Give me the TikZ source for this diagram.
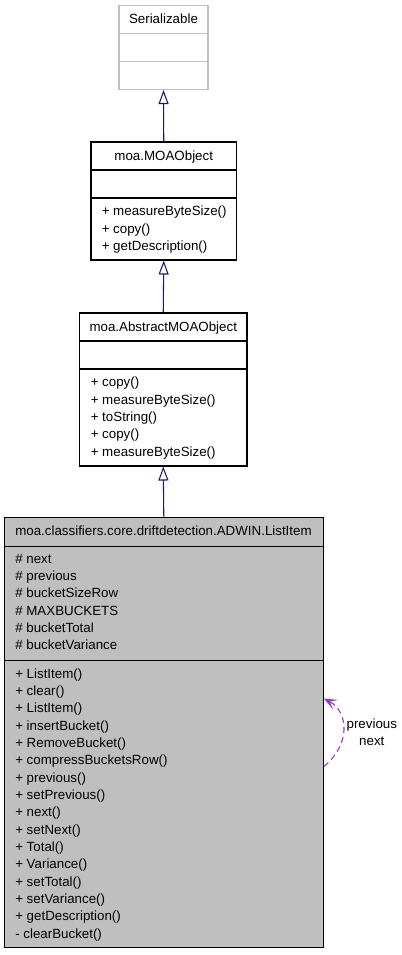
\documentclass[tikz,border=0pt]{standalone}
\usepackage{fontspec}
\setmainfont{Liberation Sans}
\usetikzlibrary{arrows.meta}
\definecolor{edgeblue}{RGB}{25,25,112}
\definecolor{loopcol}{RGB}{154,50,205}
\definecolor{boxgrey}{RGB}{191,191,191}
\tikzset{
  classbox/.style={draw=black, line width=0.8pt, fill=white, inner sep=0pt},
  extbox/.style={draw=boxgrey, line width=0.8pt, fill=white, inner sep=0pt},
  curbox/.style={draw=black, line width=0.8pt, fill=boxgrey, inner sep=0pt},
  divider/.style={line width=0.8pt},
  member/.style={anchor=west, inner sep=0pt, yshift=-1.1pt, font=\fontsize{10pt}{13pt}\selectfont, text height=7.2pt, text depth=2.2pt},
  title/.style={inner sep=0pt, yshift=-1.1pt, font=\fontsize{10pt}{13pt}\selectfont, text height=7.2pt, text depth=2.2pt},
  inherit/.style={draw=edgeblue, line width=0.8pt, -{Triangle[open, length=10.5pt, width=7.5pt]}},
  usage/.style={draw=loopcol, line width=0.8pt, dash pattern=on 4.5pt off 3pt, -{Stealth[length=10pt, width=8pt, inset=5pt]}},
  looplabel/.style={align=center, inner sep=0pt, font=\fontsize{10pt}{13pt}\selectfont}
}
\begin{document}
\begin{tikzpicture}[x=0.75pt, y=-0.75pt]
\useasboundingbox (0,0) rectangle (401,955);
% Serializable
\node[extbox, minimum width=66.75pt, minimum height=63pt] (ser) at (163.5,47.5) {};
\draw[divider, boxgrey] (ser.west |- 0,33.5) -- (ser.east |- 0,33.5);
\draw[divider, boxgrey] (ser.west |- 0,61.5) -- (ser.east |- 0,61.5);
\node[title] (sert) at (163.5,18.5) {Serializable};
% MOAObject
\node[classbox, minimum width=109.1pt, minimum height=88.5pt] (moa) at (163.75,201) {};
\draw[divider] (moa.west |- 0,170) -- (moa.east |- 0,170);
\draw[divider] (moa.west |- 0,198) -- (moa.east |- 0,198);
\node[title] (moat) at (163.75,155.5) {moa.MOAObject};
\foreach \t [count=\i] in {+ measureByteSize(), + copy(), + getDescription()}
  \node[member] (moam\i) at (101.5,{211+17.33*(\i-1)}) {\t};
% AbstractMOAObject
\node[classbox, minimum width=125.6pt, minimum height=114.75pt] (abs) at (163.25,389.5) {};
\draw[divider] (abs.west |- 0,341) -- (abs.east |- 0,341);
\draw[divider] (abs.west |- 0,369) -- (abs.east |- 0,369);
\node[title] (abst) at (163.25,326.5) {moa.AbstractMOAObject};
\foreach \t [count=\i] in {+ copy(), + measureByteSize(), + toString(), + copy(), + measureByteSize()}
  \node[member] (absm\i) at (90.5,{382+17.33*(\i-1)}) {\t};
% ListItem
\node[curbox, minimum width=239.25pt, minimum height=322.5pt] (list) at (163.8,732.5) {};
\draw[divider] (list.west |- 0,546.7) -- (list.east |- 0,546.7);
\draw[divider] (list.west |- 0,660.7) -- (list.east |- 0,660.7);
\node[title] (listt) at (163.5,531) {moa.classifiers.core.driftdetection.ADWIN.ListItem};
\foreach \t [count=\i] in {\# next, \# previous, \# bucketSizeRow, \# MAXBUCKETS, \# bucketTotal, \# bucketVariance}
  \node[member] (lista\i) at (15,{558.5+17.33*(\i-1)}) {\t};
\foreach \t [count=\i] in {+ ListItem(), + clear(), + ListItem(), + insertBucket(), + RemoveBucket(), + compressBucketsRow(), + previous(), + setPrevious(), + next(), + setNext(), + Total(), + Variance(), + setTotal(), + setVariance(), + getDescription(), - clearBucket()}
  \node[member] (listm\i) at (15,{673.3+17.33*(\i-1)}) {\t};
% inheritance edges
\draw[inherit] (moa.north) -- (ser.south);
\draw[inherit] (abs.north) -- (moa.south);
\draw[inherit] (list.north) -- (abs.south);
% self loop
\draw[usage] ([yshift=-25.5pt]list.east) .. controls +(20pt,16pt) and +(19pt,-10pt) .. ([yshift=25.5pt]list.east);
\node[looplabel] (loopl) at ([xshift=36pt]list.east) {previous\\next};
\end{tikzpicture}
\end{document}
